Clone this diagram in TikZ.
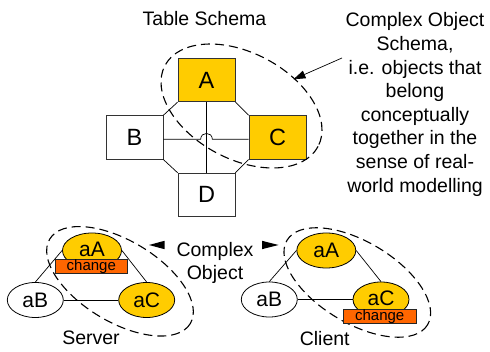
\documentclass[tikz,border=0pt]{standalone}
\usepackage{fontspec}
\setmainfont{Liberation Sans}
\usetikzlibrary{arrows.meta,calc,shapes.geometric}
\definecolor{gold}{HTML}{FFCC00}
\definecolor{changeorange}{HTML}{FF6600}
\begin{document}
\begin{tikzpicture}[x=1pt,y=-1pt,
  tablebox/.style={draw=black!80, line width=0.8pt, minimum width=57pt,
    minimum height=43.5pt, inner sep=0pt, font=\fontsize{23.5}{26}\selectfont},
  keyed/.style={fill=gold},
  conn/.style={line width=0.7pt, black},
  obj/.style={ellipse, draw, line width=0.8pt, fill=white, minimum width=56pt,
    minimum height=35pt, inner sep=0pt, font=\fontsize{21}{24}\selectfont},
  objkey/.style={obj, fill=gold},
  chg/.style={draw=black!85, line width=0.8pt, fill=changeorange, minimum width=72.7pt,
    minimum height=13.6pt, inner sep=0pt, text height=9.6pt, text depth=1.4pt,
    font=\fontsize{15}{16}\selectfont},
  lbl/.style={font=\fontsize{19.5}{23.6}\selectfont, inner sep=0pt, align=center},
  grp/.style={line width=1.1pt, dash pattern=on 9pt off 5pt}]
\useasboundingbox (0,0) rectangle (490,352);

% ---------- table schema ----------
\node[lbl, anchor=base] (title) at (204.5,26) {Table Schema};
\node[tablebox,keyed] (A) at (206.5,80) {A};
\node[tablebox] (B) at (134.5,137.4) {B};
\node[tablebox,keyed] (C) at (277.5,137.4) {C};
\node[tablebox] (D) at (206.5,194.9) {D};

% octagonal junction between the four tables
\draw[conn] (A.south west) -- (B.north east);
\draw[conn] (B.south east) -- (D.north west);
\draw[conn] (D.north east) -- (C.south west);
\draw[conn] (C.north west) -- (A.south east);
\draw[conn] (A.south) -- (D.north);
\coordinate (hopL) at (200.7,139.2);
\coordinate (hopR) at (212.3,139.2);
\draw[conn] (B.east |- hopL) -- (hopL)
  .. controls ($(hopL)+(0,-7.7)$) and ($(hopR)+(0,-7.7)$) .. (hopR)
  -- (C.west |- hopR);

% complex object schema grouping A and C
\draw[grp, rotate around={-27.85:(241.5,106)}] (241.5,106) ellipse [x radius=86.6, y radius=53.1];

\node[lbl] (desc) at (415,104.5) {Complex Object\\Schema,\\i.e. objects that\\belong\\conceptually\\together in the\\sense of real-\\world modelling};
\coordinate (descTail) at (342,58);
\coordinate (descTip) at (293.5,79.3);
\draw[conn, -{Triangle[length=12pt,width=8pt]}] (descTail) -- (descTip);

% ---------- server ----------
\draw[grp, rotate around={-31:(120,281.3)}] (120,281.3) ellipse [x radius=82, y radius=40.6];
\node[objkey, minimum width=59pt] (sA) at (92,250.5) {\raisebox{3pt}{aA}};
\node[obj] (sB) at (35.3,300) {aB};
\node[objkey] (sC) at (146.7,300) {aC};
\draw[conn] (sA.west) -- (sB.north);
\draw[conn] (sA.east) -- (sC.north);
\draw[conn] (sB.east) -- (sC.west);
\node[chg] (sChg) at (91.3,266.6) {change};
\node[lbl, anchor=base] (srv) at (91,345) {Server};

% ---------- client ----------
\draw[grp, rotate around={-31:(357.3,282.5)}] (357.3,282.5) ellipse [x radius=82, y radius=40.6];
\node[objkey, minimum width=59pt] (cA) at (326.3,250.5) {aA};
\node[obj] (cB) at (269.3,299.5) {aB};
\node[objkey] (cC) at (381,299.5) {\raisebox{2pt}{aC}};
\draw[conn] (cA.west) -- (cB.north);
\draw[conn] (cA.east) -- (cC.north);
\draw[conn] (cB.east) -- (cC.west);
\node[chg] (cChg) at (379.7,316.6) {change};
\node[lbl, anchor=base] (cli) at (324.7,345.5) {Client};

% ---------- complex object label ----------
\node[lbl] (cobj) at (215,263) {Complex\\Object};
\fill (149,245) -- (164.5,240.8) -- (164.5,249.2) -- cycle;
\fill (278.5,245) -- (262,240.8) -- (262,249.2) -- cycle;
\end{tikzpicture}
\end{document}
